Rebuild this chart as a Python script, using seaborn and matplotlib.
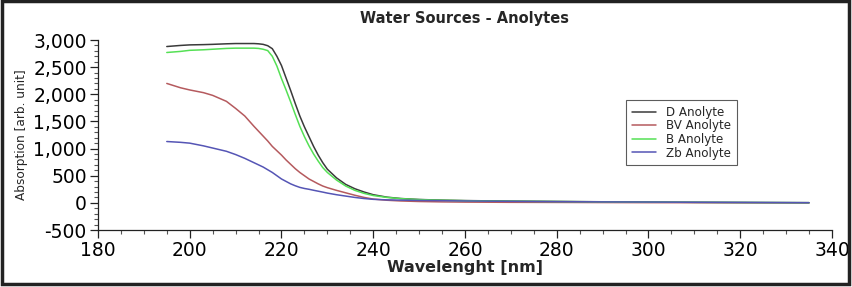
import pandas as pd
import matplotlib
matplotlib.use("Agg")
import matplotlib.pyplot as plt
from matplotlib.patches import Rectangle
from matplotlib.ticker import MultipleLocator, FuncFormatter
from matplotlib.lines import Line2D
import seaborn as sns

# wavelength grid [nm] and absorption
wavelength = [195, 198, 200, 203, 205, 208, 210, 212, 214, 215, 216, 217, 218, 219,
              220, 221, 222, 223, 224, 225, 226, 227, 228, 229, 230, 232, 234, 236,
              238, 240, 243, 246, 250, 255, 260, 270, 280, 290, 300, 310, 320, 335]

d_anolyte = [2880, 2900, 2910, 2915, 2920, 2930, 2935, 2935, 2935, 2930, 2920, 2895, 2840, 2700,
             2530, 2300, 2070, 1830, 1600, 1400, 1220, 1040, 880, 740, 620, 460, 340, 260,
             200, 150, 105, 80, 62, 50, 42, 32, 26, 20, 15, 10, 7, 3]
bv_anolyte = [2200, 2120, 2080, 2030, 1980, 1870, 1740, 1600, 1410, 1320, 1230, 1140, 1040, 960,
              880, 790, 710, 630, 560, 500, 440, 395, 350, 310, 280, 230, 185, 140,
              100, 70, 48, 35, 25, 18, 14, 10, 8, 6, 4, 3, 2, 0]
b_anolyte = [2770, 2790, 2810, 2820, 2830, 2845, 2850, 2850, 2850, 2845, 2830, 2805, 2700, 2520,
             2290, 2080, 1860, 1630, 1410, 1220, 1050, 900, 770, 650, 560, 420, 310, 230,
             175, 135, 100, 78, 60, 48, 40, 30, 24, 19, 14, 10, 7, 3]
zb_anolyte = [1130, 1115, 1100, 1050, 1010, 950, 890, 820, 740, 700, 660, 610, 560, 500,
              440, 395, 350, 315, 285, 265, 250, 232, 215, 198, 180, 150, 125, 100,
              80, 65, 55, 50, 45, 40, 35, 28, 22, 18, 15, 11, 8, 3]

labels = ["D Anolyte", "BV Anolyte", "B Anolyte", "Zb Anolyte"]
colors = {"D Anolyte": "#3a3a3a", "BV Anolyte": "#b55a5e",
          "B Anolyte": "#55e055", "Zb Anolyte": "#5555b5"}

frames = []
for name, vals in zip(labels, [d_anolyte, bv_anolyte, b_anolyte, zb_anolyte]):
    frames.append(pd.DataFrame({"wl": wavelength, "abs": vals, "series": name}))
df = pd.concat(frames, ignore_index=True)

sns.set_style("white")
plt.rcParams['font.family'] = ['DejaVu Sans']

fig = plt.figure(figsize=(8.52, 2.87), dpi=100)
ax = fig.add_axes([0.115, 0.1986, 0.8615, 0.662])

sns.lineplot(data=df, x="wl", y="abs", hue="series", palette=colors,
             hue_order=labels, linewidth=1.1, ax=ax, legend=False)

ax.set_xlim(180, 340)
ax.set_ylim(-500, 3000)
ax.xaxis.set_major_locator(MultipleLocator(20))
ax.xaxis.set_minor_locator(MultipleLocator(5))
ax.yaxis.set_major_locator(MultipleLocator(500))
ax.yaxis.set_minor_locator(MultipleLocator(100))
ax.yaxis.set_major_formatter(FuncFormatter(lambda v, p: f"{int(v):,}"))
ax.tick_params(axis="both", which="both", bottom=True, left=True, top=False, right=False)
ax.tick_params(axis="both", which="major", direction="out", length=6, width=0.9,
               labelsize=13.5, color="#222222", labelcolor="black", pad=2)
ax.tick_params(axis="both", which="minor", direction="out", length=3, width=0.8,
               color="#555555")
for s in ["top", "right"]:
    ax.spines[s].set_visible(False)
for s in ["left", "bottom"]:
    ax.spines[s].set_color("#222222")
    ax.spines[s].set_linewidth(0.9)

ax.set_xlabel("Wavelenght [nm]", fontsize=11.5, fontweight="bold", labelpad=0)
ax.set_ylabel("Absorption [arb. unit]", fontsize=8.7, labelpad=4)
ax.set_title("Water Sources - Anolytes", fontsize=10.5, fontweight="bold", pad=12)

handles = [Line2D([0], [0], color=colors[n], lw=1.1) for n in labels]
leg = ax.legend(handles, labels, loc="upper left", bbox_to_anchor=(0.720, 0.682),
                fontsize=8.6, frameon=True, fancybox=False, handlelength=2.0,
                borderpad=0.45, labelspacing=0.05, handletextpad=0.9,
                borderaxespad=0)
leg.get_frame().set_edgecolor("#333333")
leg.get_frame().set_linewidth(0.8)

fig.patches.append(Rectangle((0.002, 0.011), 0.994, 0.984, transform=fig.transFigure,
                             fill=False, edgecolor="#222222", linewidth=2.5))

fig.savefig("out.png", dpi=100)
